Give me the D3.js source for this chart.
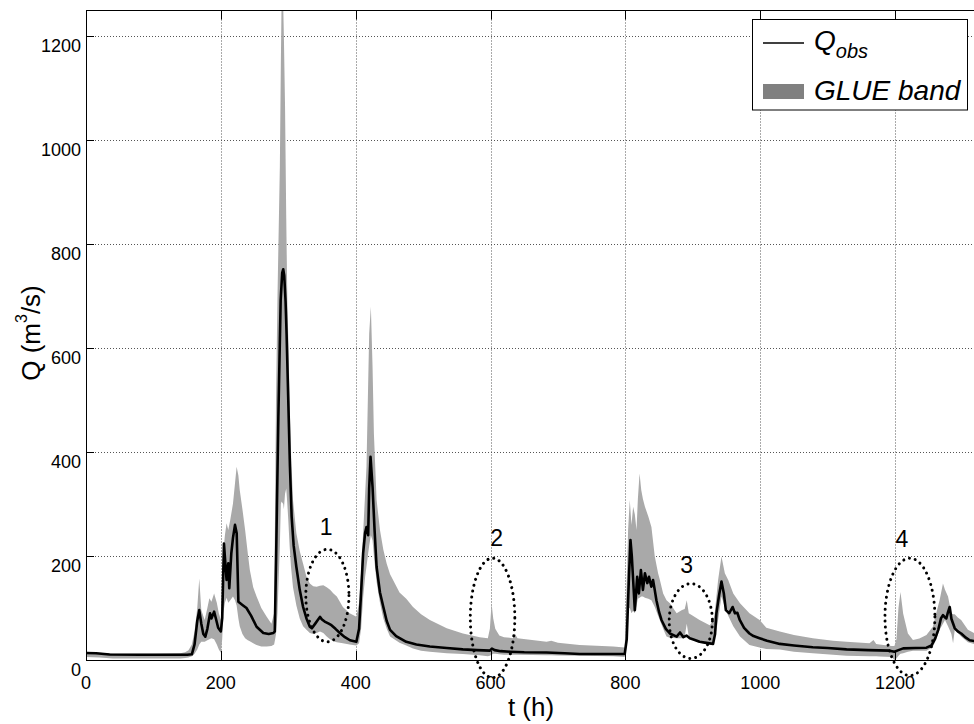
<!DOCTYPE html>
<html><head><meta charset="utf-8">
<script src="https://cdn.jsdelivr.net/npm/d3@7"></script>
<style>body{margin:0;background:#fff}svg{display:block}</style>
</head><body><svg id="c" width="974" height="724"></svg>
<script>
// Observed discharge Q_obs (t in hours, Q in m3/s)
const obsT = [0,15,35,80,120,150,157,161,165,168,171,174,177,180,184,186,190,193,196,200,202,204.6,207,208.5,211,212.5,215.5,218,221,223.5,226,232,238,245,253,263,271,278,280,282,285.3,288.7,291,292.5,294,296,297.5,300,302.5,305,308,312,317,322,327,332,335,340,347,350,354,360,364,370,376.5,384,391.5,401,405,408,411,414,416,418.5,420,422,425,428,431,436,441,446,451,460,475,490,510,535,559,580,599,602,606,615,629,650,683,710,732,760,799,802,805,807.5,809.5,811.5,814,817.5,820,823,826,829,832.5,835,838.5,841,843.5,846,850,853.5,860,866,876,881,886,890.6,895.5,902,910,920,930,933,935,939,942.5,946,949,954,959,962.5,966,969.6,976,984,990,999,1010,1029,1050,1078,1100,1128,1160,1192,1199,1205,1212,1230,1246.5,1254,1259,1264,1268,1271,1274,1276,1278,1281,1283.6,1288.5,1293,1298,1305,1310.6,1320];
const obsQ = [13.5,13,10.5,10,10,10,11,30,75,96,70,50,45,60,90,80,93,78,62,55,80,224,180,154,186,138,205,235,260,244,112,106,100,85,64,52,50,52,55,200,468,692,745,752,740,690,628,500,372,276,220,179,135,102,80,64,61,70,83,78,74,70,67,60,52,44,38,35,60,130,205,245,256,240,330,391,333,250,179,130,102,75,58,46,35,30,26,23,20.5,19,18,22,19,17,16,15,14.5,13,11.5,11.5,11.5,40,150,231,200,154,96,160,128,173,135,167,148,160,141,154,135,115,92,77,60,51,45,53,44,47,42,39,35,33,31,50,90,125,151,128,96,90,102,90,91,77,62,51,46,42,37,31,28,24.4,23,20.5,19,18,16,19,22.4,23,23.7,28,40,58,80,86.5,82,80,90,102,79,61,55,51,43,38,36];

// GLUE uncertainty band
const bandT  = [0,20,40,100,140,147,152,157,161,165,168,171,176,180,183,186,190,194,197,200,202,203.6,206,208.5,211,214,218,221,223.4,226,228,232,236,240,243,248,253,260,268,275,279,280.5,281.8,284,287.5,289,290,292.5,293.5,295.2,297,298.6,300,302,304,307,312,317,322,327,332,337,342,347,352,357,362,367,372,381,391,401,405,408,411,414,416,418,420,422.5,425,427,431,436,441,446,451,465,475,485,497,510,535,559,584,596,599,601.5,604,607,613,620,633,636,640,683,690,700,732,782,799,802,804,806.5,809,811.5,814,816.5,818.5,821,823.5,826,829,834,838.6,843.6,848.5,851,856,861,866,876,884,888,891,894,900,910,925,930,932.5,937.5,942.5,947.5,952.5,960,970,984,999,1009,1029,1050,1078,1108,1128,1162,1168,1172,1177,1195,1199,1202,1205,1208,1212,1219,1226.5,1236,1246.5,1256,1261,1266,1271,1274,1278.5,1283.5,1286,1288.5,1293,1298,1308,1320];
const bandLo = [6,5,3,3,3,4,5,7,12,20,30,35,35,38,40,42,40,30,20,14,40,90,110,120,110,115,122,115,105,80,65,50,42,38,36,32,29,26,26,27,30,40,50,90,220,300,305,300,290,320,330,300,270,220,180,140,105,80,65,58,52,50,52,55,52,45,40,36,34,32,30,28,32,60,120,160,180,200,220,240,230,200,150,110,80,60,45,33,28,22,18,16,13,11.5,9,7,8,10,12,12,11,10,10,10,10,9,9,8.5,8,7,6,50,100,100,90,95,90,105,118,120,122,122,120,118,115,102,85,77,60,45,43,42,42,45,70,45,38,33,30,30,40,77,122,102,85,65,45,29,24,21,20,16,13,10,8,7,7,7,6.5,6,0,3,8,12,13,16,18,18,18,25,40,58,70,77,65,50,32,58,52,45,34,30];
const bandHi = [16,14,12,12,13,15,19,30,55,100,157,96,77,100,119,112,128,110,90,77,140,205,240,263,250,270,301,340,372,355,327,290,250,205,173,140,122,100,83,70,90,300,500,700,950,1150,1260,1260,1200,1067,850,692,620,500,400,308,244,210,185,160,147,142,141,143,144,140,135,128,122,102,90,83,110,170,244,320,372,500,628,680,564,436,308,250,212,185,165,130,118,102,88,77,61,51,43.6,42,60,109,80,60,47,44,42,51,42,35,37,33,29,26,24,150,250,308,260,295,280,250,310,359,327,310,295,276,256,199,167,155,128,115,109,90,96,98,115,90,85,77,67,75,90,154,199,167,154,128,109,90,77,62,55,48,42,37,35,32,38.5,31,30,27,27,40,100,131,89,51,38.5,41.6,48,64,90,115,147,135,122,90,88,88,82,77,58,50];

const xTicks = [0,200,400,600,800,1000,1200];
const yTicks = [0,200,400,600,800,1000,1200];

// Annotation ellipses (data units)
const annLabels = ["1","2","3","4"];
const annT  = [358,603,897,1222];
const annQ  = [124,81,75,83];
const annRT = [32,33,32,37];
const annRQ = [89,115,72,113];
const annLabelT = [356,609,891,1210];
const annLabelQ = [256,234,183,233];

const svg = d3.select("#c");
const L = 86, R = 976, T = 10.5, B = 660;
const x = d3.scaleLinear().domain([0,1320]).range([L,R]);
const y = d3.scaleLinear().domain([0,1250]).range([B,T]);
const font = "'Liberation Sans', Arial, Helvetica, sans-serif";

svg.append("defs").append("clipPath").attr("id","clip")
  .append("rect").attr("x",L).attr("y",T).attr("width",R-L).attr("height",B-T);

// grid
const grid = svg.append("g").attr("stroke","#555").attr("stroke-width",1).attr("stroke-dasharray","1,2");
xTicks.filter(d=>d>0).forEach(d=>{
  grid.append("line").attr("x1",Math.round(x(d))+0.5).attr("x2",Math.round(x(d))+0.5).attr("y1",T).attr("y2",B);
});
yTicks.filter(d=>d>0).forEach(d=>{
  grid.append("line").attr("x1",L).attr("x2",R).attr("y1",Math.round(y(d))+0.5).attr("y2",Math.round(y(d))+0.5);
});

const plot = svg.append("g").attr("clip-path","url(#clip)");
const band = bandT.map((t,i)=>({t, lo:bandLo[i], hi:bandHi[i]}));
plot.append("path").datum(band)
  .attr("fill","#a9a9a9")
  .attr("d", d3.area().x(d=>x(d.t)).y0(d=>y(d.lo)).y1(d=>y(d.hi)));
const obs = obsT.map((t,i)=>({t, q:obsQ[i]}));
plot.append("path").datum(obs)
  .attr("fill","none").attr("stroke","#000").attr("stroke-width",2.6).attr("stroke-linejoin","round")
  .attr("d", d3.line().x(d=>x(d.t)).y(d=>y(d.q)));

// ellipses
annLabels.forEach((lab,i)=>{
  const cx = x(annT[i]), cy = y(annQ[i]);
  const rx = x(annT[i]+annRT[i]) - cx, ry = cy - y(annQ[i]+annRQ[i]);
  svg.append("ellipse").attr("cx",cx).attr("cy",cy).attr("rx",rx).attr("ry",ry)
    .attr("fill","none").attr("stroke","#000").attr("stroke-width",3)
    .attr("stroke-linecap","round").attr("stroke-dasharray","0.01,6");
  svg.append("text").attr("x",x(annLabelT[i])).attr("y",y(annLabelQ[i])+8)
    .attr("text-anchor","middle").attr("font-family",font).attr("font-size",23).text(lab);
});

// axes box
const ax = svg.append("g").attr("stroke","#000").attr("stroke-width",1).attr("fill","none");
ax.append("line").attr("x1",L+0.5).attr("x2",L+0.5).attr("y1",T).attr("y2",B+0.5);
ax.append("line").attr("x1",L).attr("x2",R).attr("y1",B+0.5).attr("y2",B+0.5);
ax.append("line").attr("x1",L).attr("x2",R).attr("y1",T).attr("y2",T);
ax.append("line").attr("x1",R-0.5).attr("x2",R-0.5).attr("y1",T).attr("y2",B);
// ticks
xTicks.forEach(d=>{
  const px = Math.round(x(d))+0.5;
  ax.append("line").attr("x1",px).attr("x2",px).attr("y1",B).attr("y2",B-9);
  ax.append("line").attr("x1",px).attr("x2",px).attr("y1",T).attr("y2",T+9);
});
yTicks.forEach(d=>{
  const py = Math.round(y(d))+0.5;
  ax.append("line").attr("x1",L).attr("x2",L+8).attr("y1",py).attr("y2",py);
});
// tick labels
const tl = svg.append("g").attr("font-family",font).attr("font-size",18).attr("fill","#000");
xTicks.forEach(d=>{
  tl.append("text").attr("x",x(d)).attr("y",B+29).attr("text-anchor","middle").text(d);
});
yTicks.forEach(d=>{
  tl.append("text").attr("x",L-5).attr("y",y(d)+16).attr("text-anchor","end").text(d);
});

// axis labels
svg.append("text").attr("x",x(660)).attr("y",716).attr("text-anchor","middle")
  .attr("font-family",font).attr("font-size",26).text("t (h)");
const yl = svg.append("text").attr("transform","translate(40,333) rotate(-90)")
  .attr("text-anchor","middle").attr("font-family",font).attr("font-size",26);
yl.append("tspan").text("Q (m");
yl.append("tspan").attr("font-size",16).attr("dy",-13).text("3");
yl.append("tspan").attr("dy",13).text("/s)");

// legend
const lg = svg.append("g");
lg.append("rect").attr("x",752.5).attr("y",19.5).attr("width",215).attr("height",90.5)
  .attr("fill","#fff").attr("stroke","#000").attr("stroke-width",1);
lg.append("line").attr("x1",763).attr("x2",804).attr("y1",43).attr("y2",43)
  .attr("stroke","#000").attr("stroke-width",1.5);
const q = lg.append("text").attr("x",814).attr("y",50).attr("font-family",font)
  .attr("font-style","italic").attr("font-size",28);
q.append("tspan").text("Q");
q.append("tspan").attr("font-size",20).attr("dy",8).text("obs");
lg.append("rect").attr("x",763).attr("y",84).attr("width",41).attr("height",15).attr("fill","#808080");
lg.append("text").attr("x",814).attr("y",100).attr("font-family",font)
  .attr("font-style","italic").attr("font-size",28).text("GLUE band");
</script></body></html>
